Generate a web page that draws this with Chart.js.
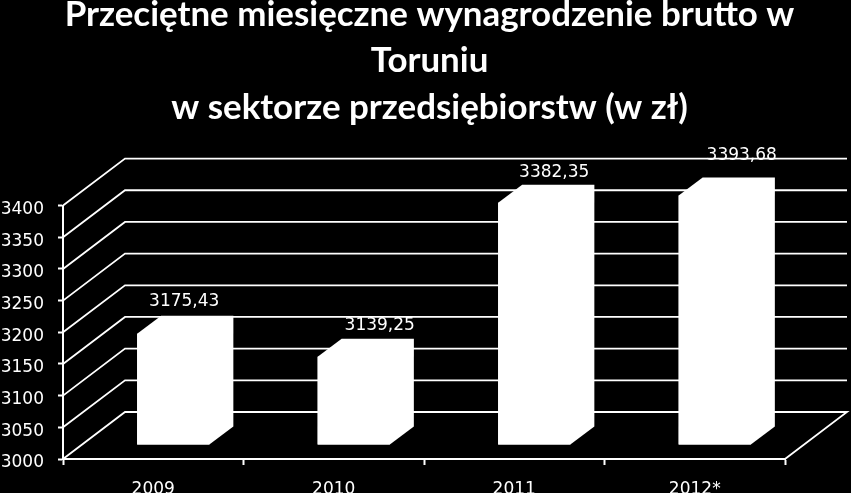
<!DOCTYPE html>
<html><head><meta charset="utf-8">
<script src="https://cdn.jsdelivr.net/npm/chart.js@4"></script>
<style>html,body{margin:0;padding:0;background:#000;overflow:hidden}#w{position:relative;width:851px;height:493px}</style>
</head><body><div id="w"><canvas id="c"></canvas></div>
<script>
const categories = ['2009','2010','2011','2012*'];
const values = [3175.43,3139.25,3382.35,3393.68];
const valueLabels = ['3175,43','3139,25','3382,35','3393,68'];
const titleLines = ['Przeciętne miesięczne wynagrodzenie brutto w','Toruniu','w sektorze przedsiębiorstw (w zł)'];
const yMin = 3000, yMax = 3400, yStep = 50;

// pseudo-3D projection constants
const wallDX = 62, wallDY = 47;
const barShiftX = 20, barShiftY = 14, barDX = 24, barDY = 18;
const labelNudge = [[11,-14],[26,-13],[20,-12],[27,-22]];
const titleShift = 37, yLabelDrop = 4;

const pseudo3d = {
  id:'pseudo3d',
  afterLayout(chart){
    chart.titleBlock.left += titleShift;
    chart.titleBlock.right += titleShift;
    const s = chart.scales.y;
    if(!s._dropped){
      const orig = s.drawLabels;
      s.drawLabels = function(area){
        chart.ctx.save();
        chart.ctx.translate(0,yLabelDrop);
        orig.call(this,area);
        chart.ctx.restore();
      };
      s._dropped = true;
    }
  },
  beforeDatasetsDraw(chart){
    const {ctx,scales:{y}} = chart, a = chart.chartArea;
    ctx.save();
    ctx.strokeStyle='#fff'; ctx.lineWidth=1.8;
    for(let v=yMin; v<=yMax; v+=yStep){
      const py=y.getPixelForValue(v);
      ctx.beginPath();
      ctx.moveTo(a.left,py);
      ctx.lineTo(a.left+wallDX,py-wallDY);
      ctx.lineTo(a.right+wallDX,py-wallDY);
      if(v===yMin) ctx.lineTo(a.right,py);
      ctx.stroke();
    }
    ctx.fillStyle='#fff';
    chart.getDatasetMeta(0).data.forEach(b=>{
      const l=b.x-b.width/2+barShiftX, r=b.x+b.width/2+barShiftX, t=b.y-barShiftY, bt=b.base-barShiftY;
      ctx.beginPath();
      ctx.moveTo(l,bt);
      ctx.lineTo(r,bt);
      ctx.lineTo(r+barDX,bt-barDY);
      ctx.lineTo(r+barDX,t-barDY);
      ctx.lineTo(l+barDX,t-barDY);
      ctx.lineTo(l,t);
      ctx.closePath();
      ctx.fill();
    });
    ctx.restore();
    ctx.save();
    ctx.translate(barShiftX,-barShiftY);
  },
  afterDatasetsDraw(chart){
    const {ctx} = chart;
    ctx.restore();
    ctx.save();
    ctx.fillStyle='#fff';
    ctx.font='17px "DejaVu Sans"';
    ctx.textAlign='center'; ctx.textBaseline='middle';
    chart.getDatasetMeta(0).data.forEach((b,i)=>{
      ctx.fillText(valueLabels[i], b.x+barShiftX+labelNudge[i][0], b.y-barShiftY-barDY+labelNudge[i][1]);
    });
    ctx.restore();
  }
};

new Chart(document.getElementById('c'),{
  type:'bar',
  data:{labels:categories,datasets:[{data:values,base:yMin,backgroundColor:'#fff',borderWidth:0,barPercentage:0.4,categoryPercentage:1,clip:false}]},
  plugins:[pseudo3d],
  options:{
    responsive:true,maintainAspectRatio:false,animation:false,
    layout:{padding:{top:-9,right:66,bottom:0,left:0}},
    plugins:{
      legend:{display:false},tooltip:{enabled:false},
      title:{display:true,text:titleLines,color:'#fff',font:{family:'Lato',weight:'bold',size:34.9,lineHeight:1.333},padding:{top:0,bottom:75}}
    },
    scales:{
      x:{
        afterFit(s){s.height=34;},
        grid:{drawOnChartArea:false,color:'#fff',tickLength:6,tickWidth:2},
        border:{color:'#fff',width:2},
        ticks:{color:'#fff',font:{family:'DejaVu Sans',size:17},padding:14,maxRotation:0}
      },
      y:{
        min:yMin,max:yMax,
        afterFit(s){s.width=63;},
        grid:{drawOnChartArea:false,color:'#fff',tickLength:5,tickWidth:2},
        border:{color:'#fff',width:2},
        ticks:{stepSize:yStep,color:'#fff',font:{family:'DejaVu Sans',size:17},padding:14,callback:v=>String(v)}
      }
    }
  }
});
</script></body></html>
